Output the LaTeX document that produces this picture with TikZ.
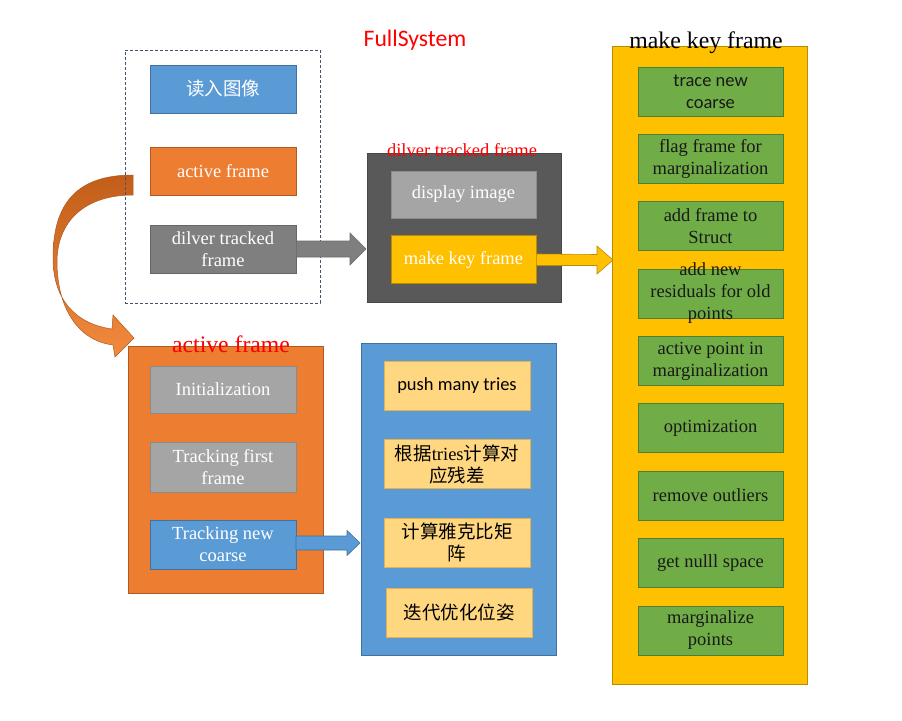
\documentclass[tikz,border=0pt]{standalone}
\usepackage{fontspec}
\setmainfont{Liberation Serif}
\newfontfamily\calfont{Carlito}
\newfontfamily\cjk{Noto Sans CJK SC}
\usetikzlibrary{calc}
\definecolor{cblue}{HTML}{5B9BD5}
\definecolor{cblueD}{HTML}{41719C}
\definecolor{corange}{HTML}{ED7D31}
\definecolor{corangeD}{HTML}{AE5A21}
\definecolor{corangeT}{HTML}{C25E1A}
\definecolor{corangeB}{HTML}{F28A3E}
\definecolor{cgray}{HTML}{7F7F7F}
\definecolor{cgrayL}{HTML}{A5A5A5}
\definecolor{cgrayLD}{HTML}{8A8A8A}
\definecolor{cdark}{HTML}{595959}
\definecolor{cyellow}{HTML}{FFC000}
\definecolor{cyellowD}{HTML}{BC8C00}
\definecolor{cgreen}{HTML}{70AD47}
\definecolor{cgreenD}{HTML}{507E32}
\definecolor{ctan}{HTML}{FFD780}
\definecolor{ctanD}{HTML}{E9B04E}
\definecolor{cdash}{HTML}{44546A}
\tikzset{
  every node/.style={font=\fontsize{18.5}{22}\selectfont, inner sep=0pt, align=center},
  box/.style={minimum width=146, minimum height=48, line width=0.6pt},
  bluebox/.style={box, fill=cblue, draw=cblueD, text=white},
  orangebox/.style={box, fill=corange, draw=corangeD, text=white},
  graybox/.style={box, fill=cgray, draw=cgray!80!black, text=white},
  lgraybox/.style={box, fill=cgrayL, draw=cgrayLD, text=white},
  yellowbox/.style={box, fill=cyellow, draw=cyellowD, text=white},
  greenbox/.style={box, minimum width=145, minimum height=49, fill=cgreen, draw=cgreenD, text=black!90},
  tanbox/.style={box, minimum height=49, fill=ctan, draw=ctanD, text=black},
  panel/.style={line width=0.6pt},
  redlabel/.style={text=red},
  blockarrow/.style={line width=0.6pt},
}
\begin{document}
\begin{tikzpicture}[x=1pt,y=-1pt]
\useasboundingbox (0,0) rectangle (902,720);

% curved arrow
\shade[top color=corangeT, bottom color=corangeB, draw=corangeD, line width=0.5pt]
  (133,175) .. controls (78,175) and (53,202) .. (53,258)
  .. controls (53,300) and (76,324) .. (112,329)
  -- (113,315) -- (134,338) -- (115,357) -- (113,345)
  .. controls (74,340) and (57,302) .. (57,262)
  .. controls (57,222) and (84,195) .. (133,195) -- cycle;

% title
\node[redlabel, font=\calfont\fontsize{23.7}{28}\selectfont] (title) at (415,40) {FullSystem};

% dashed group
\node[draw=cdash, dash pattern=on 3pt off 2pt, line width=0.6pt, minimum width=195, minimum height=253] (grp) at (222.5,176.5) {};
\node[bluebox, font=\cjk\fontsize{18.5}{22}\selectfont] (read) at (223,89) {读入图像};
\node[orangebox] (act1) at (223,171) {active frame};
\node[graybox] (dtf1) at (223,249) {dilver tracked\\frame};

% dark box
\node[panel, fill=cdark, draw=cdark!80!black, minimum width=194, minimum height=149] (dark) at (464,227.5) {};
\node[lgraybox, minimum width=145, minimum height=47, draw=cgrayL!85!black] (disp) at (463.5,194.5) {display image};
\node[yellowbox, minimum width=145] (mkf) at (463.5,259.5) {make key frame};
\node[redlabel] (dtflabel) at (462,150) {dilver tracked frame};

% right panel
\node[panel, fill=cyellow, draw=cyellowD, minimum width=195, minimum height=638] (kf) at (709.5,365) {};
\node[font=\fontsize{23.8}{28}\selectfont] (kflabel) at (706,43) {make key frame};
\node[greenbox, font=\calfont\fontsize{18.5}{22}\selectfont] (g1) at (710.5,91.5) {trace new\\coarse};
\node[greenbox] (g2) at (710.5,158.5) {flag frame for\\marginalization};
\node[greenbox] (g3) at (710.5,226) {add frame to\\Struct};
\node[greenbox, label={[text=black!90, align=center]center:add new\\residuals for old\\points}] (g4) at (710.5,293.5) {};
\node[greenbox] (g5) at (710.5,361) {active point in\\marginalization};
\node[greenbox] (g6) at (710.5,428) {optimization};
\node[greenbox] (g7) at (710.5,495.5) {remove outliers};
\node[greenbox] (g8) at (710.5,563) {get nulll space};
\node[greenbox] (g9) at (710.5,630.5) {marginalize\\points};

% active frame panel
\node[panel, fill=corange, draw=corangeD, minimum width=195, minimum height=247] (ap) at (225.5,469.5) {};
\node[redlabel, font=\fontsize{23.7}{28}\selectfont] (aplabel) at (231,344) {active frame};
\node[lgraybox, minimum height=47] (init) at (223,389.5) {Initialization};
\node[lgraybox, minimum height=50] (tff) at (223,467) {Tracking first\\frame};
\node[bluebox, minimum height=49] (tnc) at (223,544.5) {Tracking new\\coarse};

% blue panel
\node[panel, fill=cblue, draw=cblueD, minimum width=195, minimum height=312] (bp) at (458.5,499) {};
\node[tanbox, font=\calfont\fontsize{18.5}{22}\selectfont] (t1) at (457,386) {push many tries};
\node[tanbox, font=\cjk\fontsize{18.5}{22}\selectfont] (t2) at (457,464) {根据{\rmfamily tries}计算对\\应残差};
\node[tanbox, font=\cjk\fontsize{18.5}{22}\selectfont] (t3) at (457,542.5) {计算雅克比矩\\阵};
\node[tanbox, font=\cjk\fontsize{18.5}{22}\selectfont] (t4) at (459,612.5) {迭代优化位姿};

% block arrows
\draw[blockarrow, fill=cgray, draw=cgray!85!black]
  (dtf1.east) ++(0,-8) -- (350,241) -- (350,233) -- (366,249) -- (350,265) -- (350,257) -- ($(dtf1.east)+(0,8)$) -- cycle;
\draw[blockarrow, fill=cyellow, draw=cyellowD]
  ($(mkf.east)+(0,-5.5)$) -- (597,254.5) -- (597,246) -- (613,260) -- (597,274) -- (597,265.5) -- ($(mkf.east)+(0,6)$) -- cycle;
\draw[blockarrow, fill=cblue, draw=cblueD]
  (296,536) -- (347,536) -- (347,530.5) -- (360,543) -- (347,555.5) -- (347,550) -- (296,550) -- cycle;
\end{tikzpicture}
\end{document}
